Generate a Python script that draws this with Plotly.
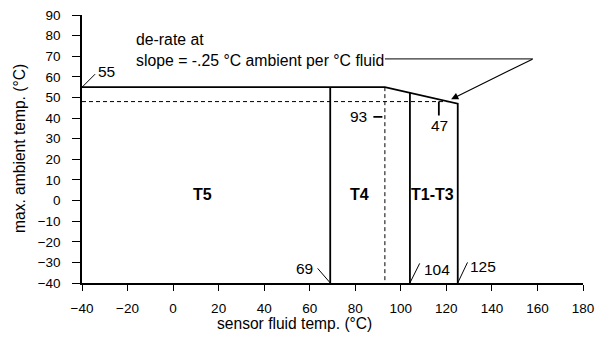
import plotly.graph_objects as go

# ---- data ----
derate_x = [-40, 93, 125, 125]          # fluid temp outline (°C)
derate_y = [55, 55, 47, -40]            # max ambient temp (°C)
class_limits = [69, 104]                # T5/T4 and T4/T1-T3 limits
class_tops = [55, 52.25]
ref_fluid = 93                          # dashed reference fluid temp
ref_ambient = 48                        # dashed reference ambient temp
ref_ambient_end = 121
zone_names = ["T5", "T4", "T1-T3"]
zone_x = [13, 82, 114]
zone_y = 3
x_ticks = [-40, -20, 0, 20, 40, 60, 80, 100, 120, 140, 160, 180]
y_ticks = [-40, -30, -20, -10, 0, 10, 20, 30, 40, 50, 60, 70, 80, 90]

FONT = "Liberation Sans, Arial, sans-serif"
BLACK = "#000000"
EDGE = 0.05  # keep annotation anchors just inside the axes

fig = go.Figure()

fig.add_trace(go.Scatter(x=derate_x, y=derate_y, mode="lines",
                         line=dict(color=BLACK, width=1.8), hoverinfo="skip"))
for lx, top in zip(class_limits, class_tops):
    fig.add_trace(go.Scatter(x=[lx, lx], y=[top, -40], mode="lines",
                             line=dict(color=BLACK, width=1.8), hoverinfo="skip"))
fig.add_trace(go.Scatter(x=[-40, ref_ambient_end], y=[ref_ambient, ref_ambient], mode="lines",
                         line=dict(color=BLACK, width=1, dash="4px,3px"), hoverinfo="skip"))
fig.add_trace(go.Scatter(x=[ref_fluid, ref_fluid], y=[derate_y[0], -40], mode="lines",
                         line=dict(color=BLACK, width=1, dash="4px,3px"), hoverinfo="skip"))
fig.add_trace(go.Scatter(x=[93, 158], y=[68.7, 68.7], mode="lines",
                         line=dict(color=BLACK, width=1), hoverinfo="skip"))

ann = []
ann.append(dict(x=-17.2, y=73.1, xref="x", yref="y", xanchor="left", yanchor="middle",
                align="left", showarrow=False,
                text="de-rate at<br>slope = -.25 °C ambient per °C fluid",
                font=dict(family=FONT, size=15.8, color=BLACK)))
ann.append(dict(x=122.1, y=49.1, xref="x", yref="y", ax=158, ay=68.7, axref="x", ayref="y",
                text="", showarrow=True, arrowhead=2, arrowsize=1.3, arrowwidth=1.1,
                arrowcolor=BLACK, font=dict(size=1), borderpad=0))

def leader(x, y, ax, ay, standoff=0, width=1, color=BLACK):
    ann.append(dict(x=x, y=y, xref="x", yref="y", ax=ax, ay=ay, text="", showarrow=True,
                    arrowhead=0, arrowwidth=width, arrowcolor=color, standoff=standoff,
                    font=dict(size=1), borderpad=0))

def label(x, y, text, xanchor, xshift, yshift):
    ann.append(dict(x=x, y=y, xref="x", yref="y", text=text, showarrow=False,
                    xanchor=xanchor, yanchor="middle", xshift=xshift, yshift=yshift,
                    font=dict(family=FONT, size=15.5, color=BLACK)))

leader(-40 + EDGE, 55, 13.5, -13.5)
label(-40, 55, "55", "left", 14, 15.5)

leader(69, -40 + EDGE, -13, -15)
label(69, -40, "69", "right", -15, 15)

leader(104, -40 + EDGE, 10, -20)
label(104, -40, "104", "left", 12, 14)

leader(125, -40 + EDGE, 10, -21)
label(125, -40, "125", "left", 10, 16.5)

leader(93, 40.6, -12, 0, standoff=2.5, width=1.8)
label(93, 40.6, "93", "right", -15.5, 0)

leader(116.7, 48, 0, 14.5, width=1.8)
label(116.7, 48, "47", "center", 1, -23.5)

for name, zx in zip(zone_names, zone_x):
    ann.append(dict(x=zx, y=zone_y, xref="x", yref="y", text="<b>%s</b>" % name,
                    showarrow=False, xanchor="center", yanchor="middle",
                    font=dict(family=FONT, size=16, color=BLACK)))

ann.append(dict(x=0.425, y=0, xref="paper", yref="paper", yshift=-40, text="sensor fluid temp. (°C)",
                showarrow=False, xanchor="center", yanchor="middle",
                font=dict(family=FONT, size=15.6, color=BLACK)))
ann.append(dict(x=0, y=0.5, xref="paper", yref="paper", xshift=-63, text="max. ambient temp. (°C)",
                showarrow=False, xanchor="center", yanchor="middle", textangle=-90,
                font=dict(family=FONT, size=15.6, color=BLACK)))

fig.update_layout(
    width=603, height=337,
    margin=dict(l=82, r=20, t=15, b=54),
    paper_bgcolor="white", plot_bgcolor="white",
    showlegend=False,
    annotations=ann,
    font=dict(family=FONT, color=BLACK),
)
fig.update_xaxes(range=[-40, 180], tickvals=x_ticks, ticks="outside", ticklen=6, tickwidth=1,
                 tickcolor=BLACK, showline=True, linecolor=BLACK, linewidth=1.5,
                 showgrid=False, zeroline=False, tickfont=dict(family=FONT, size=13.5, color=BLACK),
                 ticklabelstandoff=6, fixedrange=True, automargin=False)
fig.update_yaxes(range=[-40, 90], tickvals=y_ticks, ticks="outside", ticklen=8, tickwidth=1,
                 tickcolor=BLACK, showline=True, linecolor=BLACK, linewidth=1.5,
                 showgrid=False, zeroline=False, tickfont=dict(family=FONT, size=13.5, color=BLACK),
                 ticklabelstandoff=9, fixedrange=True, automargin=False)

fig.write_html("out.html", config={"displayModeBar": False})
